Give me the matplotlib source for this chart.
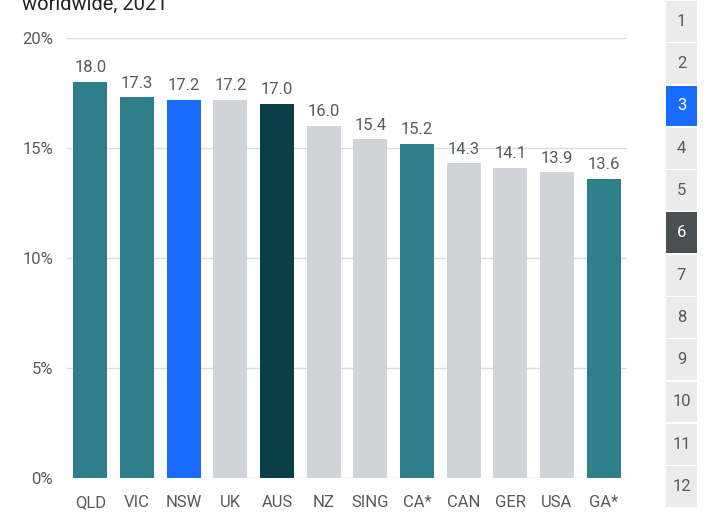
import matplotlib.pyplot as plt
from matplotlib.patches import Rectangle

# --- data ---
regions = ['QLD', 'VIC', 'NSW', 'UK', 'AUS', 'NZ', 'SING', 'CA*', 'CAN', 'GER', 'USA', 'GA*']
values = [18.0, 17.3, 17.2, 17.2, 17.0, 16.0, 15.4, 15.2, 14.3, 14.1, 13.9, 13.6]
kinds = ['teal', 'teal', 'blue', 'grey', 'dark', 'grey', 'grey', 'teal', 'grey', 'grey', 'grey', 'teal']
yticks = [0, 5, 10, 15, 20]
nav_labels = [str(i) for i in range(1, 13)]
nav_active = {'3': 'blue', '6': 'dark'}

palette = {'teal': '#2e7f8a', 'blue': '#1a6cff', 'grey': '#d0d4d8', 'dark': '#0b3d47'}
nav_palette = {'blue': '#1a6cff', 'dark': '#4a5052', None: '#ebebeb'}
txt = '#555a5e'

plt.rcParams['font.family'] = ['Roboto', 'DejaVu Sans']

W, H = 709, 512
fig = plt.figure(figsize=(W / 100, H / 100), dpi=100)

# --- main bar chart ---
ax = fig.add_axes([67 / W, 1 - 478 / H, 560 / W, 440 / H])
x = range(len(regions))
ax.bar(x, values, width=0.73, color=[palette[k] for k in kinds], zorder=3)
for xi, v in zip(x, values):
    ax.text(xi, v + 0.3, f'{v:.1f}', ha='center', va='bottom', fontsize=12, color=txt)

ax.set_xlim(-0.5, len(regions) - 0.5)
ax.set_ylim(0, 20)
ax.set_yticks(yticks)
ax.set_yticklabels([f'{t}%' for t in yticks])
ax.set_xticks(list(x))
ax.set_xticklabels(regions)
ax.grid(axis='y', color='#d9dde0', linewidth=1, zorder=0)
for s in ax.spines.values():
    s.set_visible(False)
ax.tick_params(axis='both', length=0, labelsize=12, colors=txt)
ax.tick_params(axis='y', pad=10)
ax.tick_params(axis='x', pad=12)

# cut-off title at top
fig.text(22 / W, 1 - 4 / H, 'worldwide, 2021', fontsize=14.5, color='#222222', va='center', ha='left')

# --- side navigation ---
nav = fig.add_axes([0, 0, 1, 1])
nav.set_xlim(0, W)
nav.set_ylim(H, 0)
nav.axis('off')
step = 42.3
for i, lab in enumerate(nav_labels):
    bottom = 507 - (len(nav_labels) - 1 - i) * step
    top = bottom - step + 1.5
    state = nav_active.get(lab)
    nav.add_patch(Rectangle((666, top), 31, bottom - top, facecolor=nav_palette[state], edgecolor='none'))
    nav.text(681.5, (top + bottom) / 2, lab, ha='center', va='center', fontsize=12,
             color='white' if state else txt)

fig.savefig('out.png', dpi=100)
